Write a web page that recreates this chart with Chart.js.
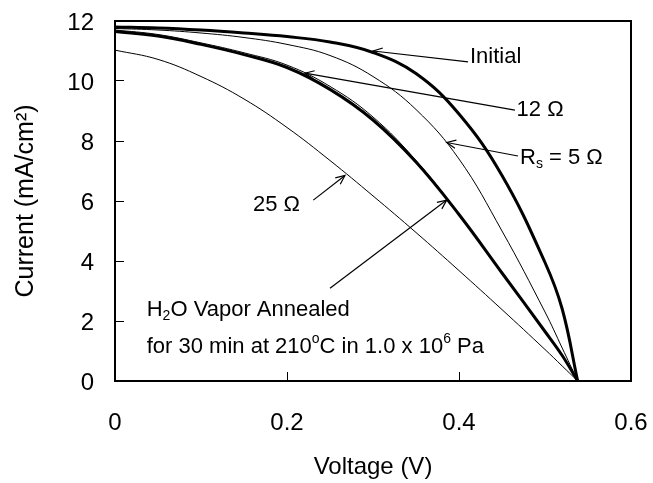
<!DOCTYPE html>
<html><head><meta charset="utf-8">
<script src="https://cdn.jsdelivr.net/npm/chart.js@4.4.0/dist/chart.umd.min.js"></script>
<style>html,body{margin:0;padding:0;background:#fff}#wrap{width:653px;height:483px}</style>
</head><body><div id="wrap"><canvas id="c" width="653" height="483"></canvas></div>
<script>
// ---- data ----
const voltage = [0, 0.05, 0.1, 0.15, 0.2, 0.25, 0.3, 0.35, 0.4, 0.45, 0.5, 0.52, 0.538];
const currentInitial   = [11.8, 11.77, 11.7, 11.6, 11.48, 11.3, 10.95, 10.25, 8.9, 6.85, 3.95, 2.4, 0];
const currentRs5       = [11.75, 11.7, 11.6, 11.45, 11.22, 10.85, 10.15, 9.05, 7.4, 5.0, 2.3, 1.1, 0];
const currentRs12      = [11.7, 11.55, 11.27, 10.94, 10.53, 9.82, 8.8, 7.35, 5.57, 3.6, 1.65, 0.85, 0];
const currentAnnealed  = [11.65, 11.5, 11.22, 10.88, 10.45, 9.72, 8.7, 7.3, 5.55, 3.6, 1.65, 0.85, 0];
const currentRs25      = [11.03, 10.72, 10.15, 9.4, 8.45, 7.35, 6.17, 4.95, 3.68, 2.38, 1.05, 0.5, 0];
const xTickLabels = ['0', '0.2', '0.4', '0.6'];
const yTickLabels = ['0', '2', '4', '6', '8', '10', '12'];

// ---- annotation texts (parts: [text, mode]) and anchors in data units ----
const noteText = [
  [['Initial']],
  [['12 Ω']],
  [['R'], ['s', 'sub'], [' = 5 Ω']],
  [['25 Ω']],
  [['H'], ['2', 'sub'], ['O Vapor Annealed']],
  [['for 30 min at 210'], ['o', 'sup'], ['C in 1.0 x 10'], ['6', 'sup'], [' Pa']]
];
const noteAt = [[0.4128, 10.81], [0.467, 9.03], [0.471, 7.43], [0.1605, 5.87], [0.0369, 2.37], [0.0369, 1.14]];
const arrowFrom = [[0.4105, 10.64], [0.465, 9.03], [0.4686, 7.5], [0.2306, 6.03], [0.25, 3.09]];
const arrowTo   = [[0.3003, 11.0], [0.2209, 10.26], [0.3857, 7.95], [0.2674, 6.85], [0.3857, 6.03]];

const FONT = 'Liberation Sans, Arial, sans-serif';
const pts = arr => voltage.map((v, i) => ({x: v, y: arr[i]}));
const ds = (label, arr, w) => ({label, data: pts(arr), borderColor: '#000', borderWidth: w,
  pointRadius: 0, fill: false, showLine: true, tension: 0.4});

const annot = {
  id: 'annot',
  afterDraw(chart) {
    const {ctx, chartArea: a, scales: {x, y}} = chart;
    ctx.save();
    ctx.strokeStyle = '#000';
    ctx.lineWidth = 2;
    ctx.strokeRect(a.left, a.top, a.right - a.left, a.bottom - a.top);
    // arrows
    ctx.lineWidth = 1.2;
    arrowFrom.forEach((f, i) => {
      const x1 = x.getPixelForValue(f[0]), y1 = y.getPixelForValue(f[1]);
      const x2 = x.getPixelForValue(arrowTo[i][0]), y2 = y.getPixelForValue(arrowTo[i][1]);
      ctx.beginPath(); ctx.moveTo(x1, y1); ctx.lineTo(x2, y2); ctx.stroke();
      const ang = Math.atan2(y1 - y2, x1 - x2), L = 10, sp = 0.42;
      ctx.beginPath();
      ctx.moveTo(x2 + L * Math.cos(ang + sp), y2 + L * Math.sin(ang + sp));
      ctx.lineTo(x2, y2);
      ctx.lineTo(x2 + L * Math.cos(ang - sp), y2 + L * Math.sin(ang - sp));
      ctx.stroke();
    });
    // texts
    ctx.fillStyle = '#000';
    ctx.textBaseline = 'middle';
    ctx.textAlign = 'left';
    const size = 22;
    noteText.forEach((parts, i) => {
      let px = x.getPixelForValue(noteAt[i][0]);
      const py = y.getPixelForValue(noteAt[i][1]);
      parts.forEach(([t, mode]) => {
        let s = size, dy = 0;
        if (mode === 'sub') { s = Math.round(size * 0.62); dy = size * 0.28; }
        if (mode === 'sup') { s = Math.round(size * 0.62); dy = -size * 0.36; }
        ctx.font = s + 'px ' + FONT;
        ctx.fillText(t, px, py + dy);
        px += ctx.measureText(t).width;
      });
    });
    ctx.restore();
  }
};

new Chart(document.getElementById('c'), {
  type: 'scatter',
  data: {datasets: [
    ds('Initial', currentInitial, 3),
    ds('Rs = 5 Ω', currentRs5, 1),
    ds('12 Ω', currentRs12, 1),
    ds('H2O Vapor Annealed', currentAnnealed, 3),
    ds('25 Ω', currentRs25, 1)
  ]},
  options: {
    responsive: false, animation: false, devicePixelRatio: 1,
    layout: {padding: {top: 21, right: 22, left: 0, bottom: 0}},
    plugins: {legend: {display: false}, tooltip: {enabled: false}},
    scales: {
      x: {
        type: 'linear', min: 0, max: 0.6,
        afterFit: s => { s.height = 102; s.paddingLeft = 0; s.paddingRight = 0; },
        border: {display: false},
        grid: {drawOnChartArea: false, drawTicks: true, tickLength: -9, color: '#000', lineWidth: 1},
        ticks: {stepSize: 0.2, padding: 37, color: '#000', font: {family: FONT, size: 24},
          maxRotation: 0, autoSkip: false, callback: (v, i) => xTickLabels[i]},
        title: {display: true, text: 'Voltage (V)', color: '#000', font: {family: FONT, size: 24},
          padding: {top: 0, bottom: 1}}
      },
      y: {
        type: 'linear', min: 0, max: 12,
        afterFit: s => { s.width = 115; s.paddingTop = 0; s.paddingBottom = 0; },
        border: {display: false},
        grid: {drawOnChartArea: false, drawTicks: true, tickLength: -9, color: '#000', lineWidth: 1},
        ticks: {stepSize: 2, padding: 30, labelOffset: 2, color: '#000', font: {family: FONT, size: 24},
          autoSkip: false, callback: (v, i) => yTickLabels[i]},
        title: {display: true, text: 'Current (mA/cm²)', color: '#000', font: {family: FONT, size: 25},
          padding: {top: 11, bottom: 0}}
      }
    }
  },
  plugins: [annot]
});
</script></body></html>
